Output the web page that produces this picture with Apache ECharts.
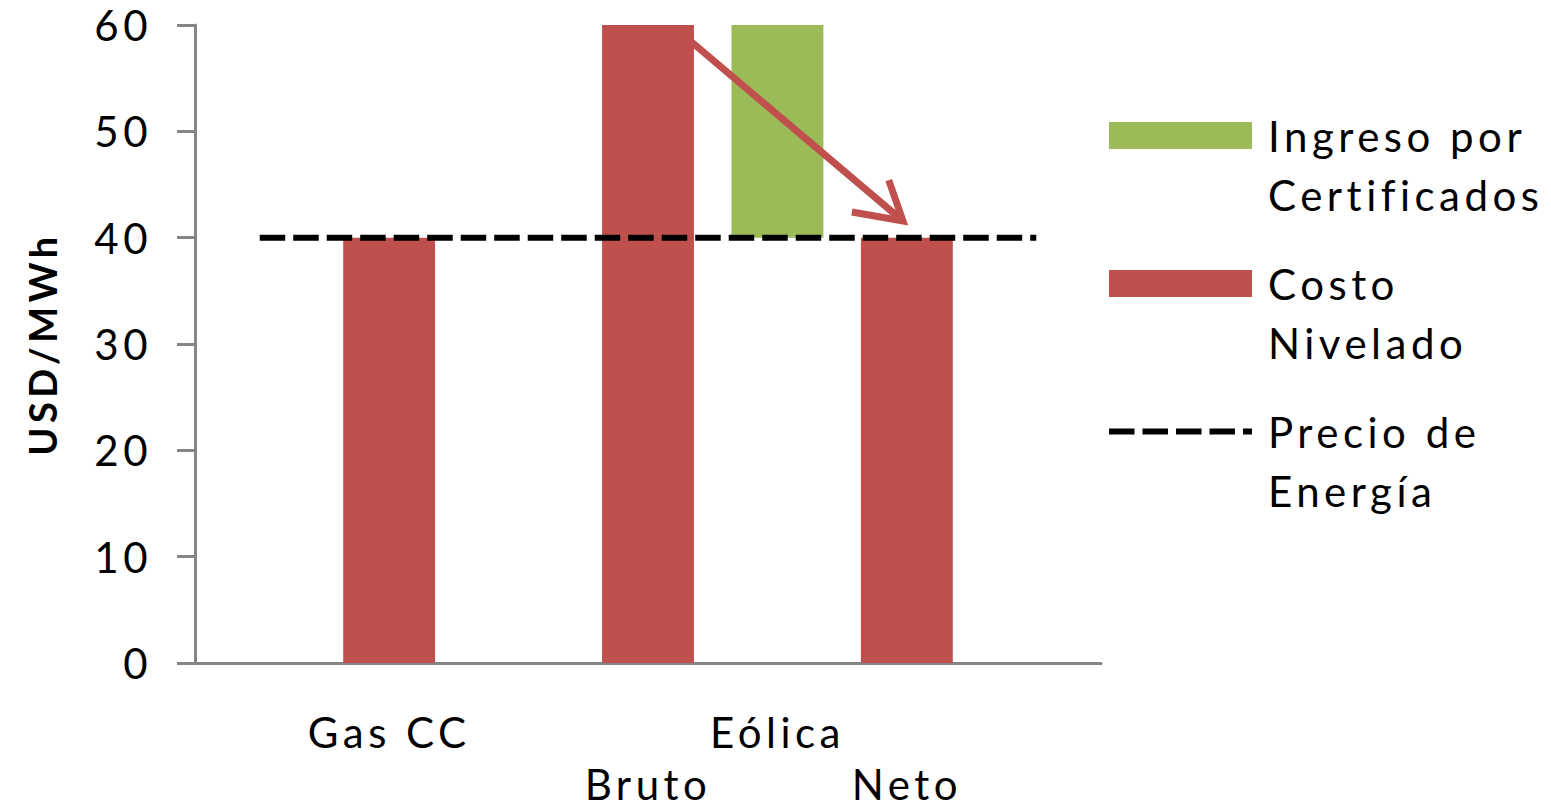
<!DOCTYPE html>
<html><head><meta charset="utf-8">
<script src="https://cdn.jsdelivr.net/npm/echarts@6/dist/echarts.min.js"></script>
<style>
html,body{margin:0;padding:0;background:#fff;}
#main{width:1551px;height:809px;letter-spacing:4.5px;}
</style></head><body><div id="main"></div>
<script>
// category slots (7 slots; labels are mapped by index)
const slots = ['s0', 'gas', 's2', 'bruto', 'certif', 'neto', 's6'];
const groupLabels = ['', 'Gas CC', '', '', 'Eólica', '', ''];
const subLabels = ['', '', '', 'Bruto', '', 'Neto', ''];
const yTicks = [0, 10, 20, 30, 40, 50, 60];

const costoNivelado = [null, 40, null, 60, null, 40, null];
const ingresoBase = [null, null, null, null, 40, null, null];
const ingresoCertificados = [null, null, null, null, 20, null, null];
const precioEnergia = [40, 40, 40, 40, 40, 40, 40];

// arrow in (slot index, USD/MWh) units
const arrowShaft = [[3.21, 59.7], [4.97, 41.57]];
const arrowHead = [[4.86, 45.42], [4.97, 41.57], [4.575, 42.41]];

const legendNames = ['Ingreso por Certificados', 'Costo Nivelado', 'Precio de Energía'];
const legendText = ['Ingreso por\nCertificados', 'Costo\nNivelado', 'Precio de\nEnergía'];

const RED = '#C0504D', GREEN = '#9BBB59', AXIS = '#868686';
const FONT = 'Lato';

const chart = echarts.init(document.getElementById('main'), null, {renderer: 'svg'});
chart.setOption({
  animation: false,
  backgroundColor: '#fff',
  textStyle: {fontFamily: FONT},
  grid: {left: 195, right: 450, top: 25, bottom: 146, outerBoundsMode: 'none', containLabel: false},
  legend: {
    orient: 'vertical', left: 1106, top: 47, padding: 0,
    itemGap: -29, itemWidth: 143, itemHeight: 27,
    selectedMode: false,
    textStyle: {fontFamily: FONT, fontSize: 42, color: '#000', lineHeight: 59, padding: [0, 0, 0, 11]},
    // leading blank line puts the first text line level with the key
    formatter: function (name) { return '\n' + legendText[legendNames.indexOf(name)]; },
    data: [
      {name: legendNames[0], icon: 'rect'},
      {name: legendNames[1], icon: 'rect'},
      {name: legendNames[2], lineStyle: {width: 6}, itemStyle: {opacity: 0}}
    ]
  },
  xAxis: [
    {
      type: 'category', data: slots, position: 'bottom',
      axisLine: {show: true, onZero: false, lineStyle: {color: AXIS, width: 3}},
      axisTick: {show: false},
      splitLine: {show: false},
      axisLabel: {interval: 0, margin: 49, fontFamily: FONT, fontSize: 42, lineHeight: 40, color: '#000',
        formatter: function (v, i) { return groupLabels[i]; }}
    },
    {
      type: 'category', data: slots, position: 'bottom', offset: 58,
      axisLine: {show: false, onZero: false},
      axisTick: {show: false},
      splitLine: {show: false},
      axisLabel: {interval: 0, margin: 49, fontFamily: FONT, fontSize: 42, lineHeight: 28, color: '#000',
        formatter: function (v, i) { return subLabels[i]; }}
    },
    {type: 'value', min: -0.5, max: 6.5, show: false, position: 'top', splitLine: {show: false}}
  ],
  yAxis: {
    type: 'value', min: yTicks[0], max: yTicks[yTicks.length - 1], interval: yTicks[1] - yTicks[0],
    axisLine: {show: true, onZero: false, lineStyle: {color: AXIS, width: 3}},
    axisTick: {show: true, length: 18, lineStyle: {color: AXIS, width: 3}},
    splitLine: {show: false},
    axisLabel: {margin: 43, fontFamily: FONT, fontSize: 42, color: '#000'},
    name: 'USD/MWh', nameLocation: 'middle', nameRotate: 90, nameGap: 134, nameMoveOverlap: false,
    nameTextStyle: {fontFamily: FONT, fontWeight: 'bold', fontSize: 38, lineHeight: 38, color: '#000'}
  },
  series: [
    {name: 'base', type: 'bar', stack: 'a', barWidth: '71%', silent: true,
      itemStyle: {color: 'rgba(0,0,0,0)'}, data: ingresoBase},
    {name: legendNames[1], type: 'bar', stack: 'a', barWidth: '71%',
      itemStyle: {color: RED}, data: costoNivelado},
    {name: legendNames[0], type: 'bar', stack: 'a', barWidth: '71%',
      itemStyle: {color: GREEN}, data: ingresoCertificados},
    {name: legendNames[2], type: 'line', xAxisIndex: 0, symbol: 'none', showSymbol: false, z: 5,
      itemStyle: {color: '#000'},
      lineStyle: {color: '#000', width: 6, type: [25.5, 8]}, data: precioEnergia},
    {name: 'flecha', type: 'line', xAxisIndex: 2, symbol: 'none', showSymbol: false, silent: true, z: 6,
      lineStyle: {color: RED, width: 7, cap: 'butt'}, data: arrowShaft},
    {name: 'flecha-punta', type: 'line', xAxisIndex: 2, symbol: 'none', showSymbol: false, silent: true, z: 6,
      lineStyle: {color: RED, width: 7, join: 'miter', cap: 'butt'}, data: arrowHead}
  ]
});
</script></body></html>
